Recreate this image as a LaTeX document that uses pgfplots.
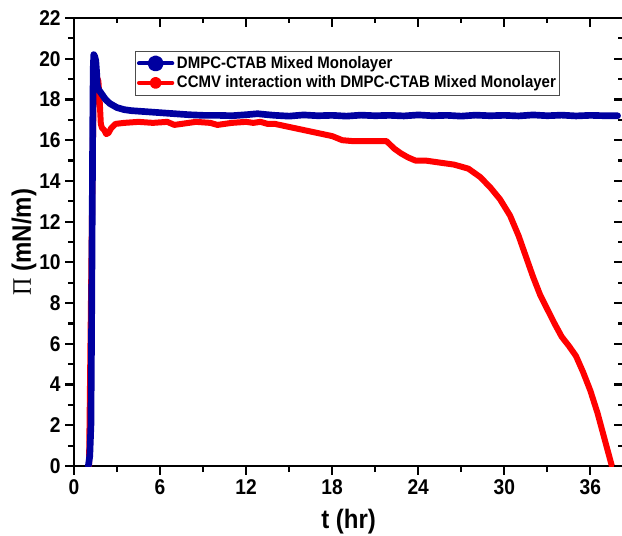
\documentclass[border=0pt]{standalone}
\usepackage{fontspec}
\setmainfont{Liberation Sans}[FakeStretch=0.9]
\newfontfamily\seriffont{Liberation Serif}[FakeStretch=0.9]
\usepackage{pgfplots}
\pgfplotsset{compat=1.18}
\definecolor{dblue}{RGB}{0,0,160}
\definecolor{dred}{RGB}{255,0,0}
\begin{document}
\begin{tikzpicture}
\begin{axis}[
  at={(0,0)}, anchor=south west,
  scale only axis, width=412pt, height=336pt,
  xmin=0, xmax=38.3, ymin=0, ymax=22,
  xtick={0,6,...,36}, ytick={0,2,...,22},
  minor xtick={3,9,...,33}, minor ytick={1,3,...,21},
  xtick pos=left, ytick pos=left,
  tick align=outside,
  major tick length=6.5pt, minor tick length=4.5pt,
  tick style={black, line width=1.6pt},
  axis line style={line width=1.8pt},
  /pgf/number format/assume math mode=true,
  tick label style={font=\bfseries\fontsize{16}{16}\selectfont},
  xlabel={t (hr)},
  ylabel={{\seriffont\mdseries Π} (mN/m)},
  label style={font=\bfseries\fontsize{20}{20}\selectfont},
  xlabel style={at={(axis description cs:0.5,-0.125)}, anchor=center},
  ylabel style={at={(axis description cs:-0.091,0.5)}, anchor=center, rotate=0},
  reverse legend,
  legend cell align=left,
  legend style={at={(axis cs:4.26,20.4)}, anchor=north west, draw=black!70, line width=0.8pt,
    font=\bfseries\fontsize{12.5}{13.5}\selectfont, inner xsep=1pt, inner ysep=2pt, row sep=0pt},
]
\addplot[dred, line width=4.5pt, line join=round, line cap=round,
  legend image code/.code={\draw[dred, line width=3pt] (0pt,0pt) -- (25pt,0pt); \fill[dred] (12.5pt,0pt) circle (2.2pt);}]
coordinates {
(1.05,0) (1.3,15) (1.4,19.6) (1.5,19.4) (1.6,19.1) (1.7,18.9) (1.8,17.8) (1.87,16.8)
(1.95,16.6) (2.1,16.5) (2.25,16.3) (2.4,16.35) (2.6,16.6) (2.9,16.8) (3.5,16.85)
(4.5,16.9) (5.5,16.85) (6.5,16.9) (7,16.75) (7.5,16.8) (8.5,16.9) (9.5,16.85)
(10,16.75) (11,16.85) (12,16.9) (12.5,16.85) (13,16.9) (13.5,16.8) (14,16.8)
(15,16.65) (16,16.5) (17,16.35) (18,16.2) (18.7,16.0) (19.5,15.95) (20.5,15.95)
(21.5,15.95) (21.8,15.95) (22.3,15.6) (22.8,15.35) (23.3,15.15) (23.8,15.0)
(24.5,15.0) (25.5,14.9) (26.5,14.8) (27.5,14.6) (28.3,14.2) (29,13.7) (29.7,13.1)
(30.4,12.3) (31,11.3) (31.5,10.3) (32,9.3) (32.5,8.4) (33,7.7) (33.5,7.0) (34,6.35)
(34.5,5.9) (35,5.4) (35.5,4.6) (36,3.7) (36.5,2.6) (37,1.3) (37.5,0)
};
\addlegendentry{CCMV interaction with DMPC-CTAB Mixed Monolayer}
\addplot[dblue, line width=5pt, line join=round, line cap=round,
  legend image code/.code={\draw[dblue, line width=3pt] (0pt,0pt) -- (25pt,0pt); \fill[dblue] (12.5pt,0pt) circle (3.5pt);}]
coordinates {
(1.0,0) (1.1,0.5) (1.18,2) (1.22,6) (1.26,11) (1.3,16) (1.34,19.5) (1.38,20.2)
(1.45,20.1) (1.52,19.9) (1.58,19.3) (1.62,18.7) (1.7,18.5) (1.9,18.3) (2.2,18.0)
(2.5,17.8) (3.0,17.6) (3.5,17.5) (4.0,17.45) (5,17.4) (6,17.35) (7,17.3) (8,17.25)
(9,17.22) (10,17.22) (11,17.2) (12,17.25) (12.8,17.3) (13.5,17.25) (14,17.22)
(15,17.18) (16,17.24) (17,17.2) (18,17.22) (19,17.18) (20,17.23) (21,17.2)
(22,17.22) (23,17.19) (24,17.24) (25,17.2) (26,17.22) (27,17.18) (28,17.23)
(29,17.2) (30,17.22) (31,17.19) (32,17.24) (33,17.2) (34,17.23) (35,17.19)
(36,17.22) (37,17.2) (37.9,17.2)
};
\addlegendentry{DMPC-CTAB Mixed Monolayer}
\end{axis}
\begin{axis}[
  at={(0,0)}, anchor=south west,
  scale only axis, width=412pt, height=336pt,
  xmin=0, xmax=38.3, ymin=0, ymax=22,
  xtick={0,6,...,36}, ytick={0,2,...,22},
  minor xtick={3,9,...,33}, minor ytick={1,3,...,21},
  xtick pos=right, ytick pos=right,
  tick align=inside,
  xticklabels={}, yticklabels={},
  major tick length=7pt, minor tick length=4pt,
  tick style={black, line width=1.6pt},
  axis line style={draw=none},
]
\end{axis}
\pgfresetboundingbox
\path (-55.5pt,-52.5pt) rectangle (411pt,349.5pt);
\end{tikzpicture}
\end{document}
